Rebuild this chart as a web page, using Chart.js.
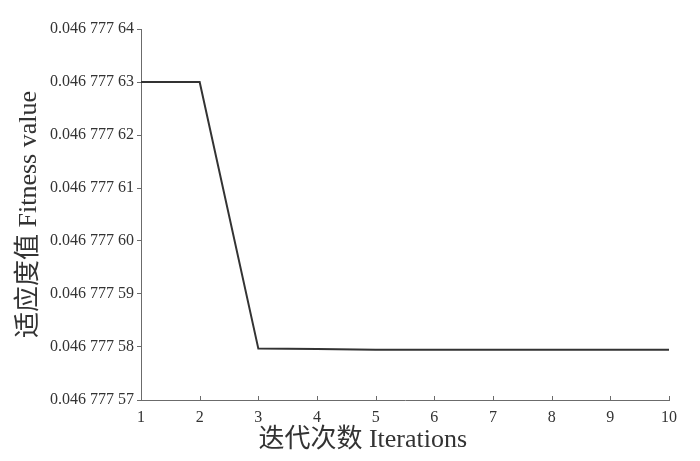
<!DOCTYPE html>
<html>
<head>
<meta charset="utf-8">
<script src="https://cdn.jsdelivr.net/npm/chart.js@4"></script>
<style>
  html, body { margin: 0; padding: 0; background: #fff; }
  #wrap { width: 700px; height: 461px; }
</style>
</head>
<body>
<div id="wrap"><canvas id="c" width="700" height="461"></canvas></div>
<script>
const ITERATIONS = [1, 2, 3, 4, 5, 6, 7, 8, 9, 10];
const FITNESS = [
  0.0467776300, 0.0467776300, 0.0467775797, 0.0467775796, 0.0467775795,
  0.0467775795, 0.0467775795, 0.0467775795, 0.0467775795, 0.0467775795
];
const Y_TICKS = [0.04677757, 0.04677758, 0.04677759, 0.04677760, 0.04677761, 0.04677762, 0.04677763, 0.04677764];
const X_TICKS = [1, 2, 3, 4, 5, 6, 7, 8, 9, 10];
const X_TITLE = "迭代次数 Iterations";
const Y_TITLE = "适应度值 Fitness value";

const SERIF = '"Liberation Serif", "DejaVu Serif", "Noto Sans CJK SC", serif';
const AXIS_COLOR = "#6b6b6b";

// "0.046 777 63" style labels
function fmtFitness(v) {
  const n = Math.round(v * 1e8).toString().padStart(8, "0");
  return "0." + n.slice(0, 3) + " " + n.slice(3, 6) + " " + n.slice(6);
}

// x ticks point into the plot, x title sits left of centre
const axisExtras = {
  id: "axisExtras",
  afterDraw(chart) {
    const { ctx, chartArea, scales } = chart;
    ctx.save();
    ctx.strokeStyle = AXIS_COLOR;
    ctx.lineWidth = 1;
    X_TICKS.forEach((t) => {
      const x = Math.round(scales.x.getPixelForValue(t)) + 0.5;
      ctx.beginPath();
      ctx.moveTo(x, chartArea.bottom);
      ctx.lineTo(x, chartArea.bottom - 4);
      ctx.stroke();
    });
    ctx.fillStyle = "#333";
    ctx.font = "26px " + SERIF;
    ctx.textAlign = "center";
    ctx.textBaseline = "middle";
    ctx.fillText(X_TITLE, chartArea.left + (chartArea.right - chartArea.left) * 0.42, 440);
    ctx.restore();
  }
};

new Chart(document.getElementById("c").getContext("2d"), {
  type: "line",
  data: {
    datasets: [{
      data: ITERATIONS.map((x, i) => ({ x, y: FITNESS[i] })),
      borderColor: "#333333",
      borderWidth: 2,
      pointRadius: 0,
      tension: 0,
      fill: false
    }]
  },
  options: {
    responsive: false,
    animation: false,
    layout: { padding: { top: 29, right: 31, bottom: 0, left: 14 } },
    plugins: { legend: { display: false }, tooltip: { enabled: false } },
    scales: {
      x: {
        type: "linear",
        min: 1,
        max: 10,
        afterBuildTicks: (s) => { s.ticks = X_TICKS.map((v) => ({ value: v })); },
        afterFit: (s) => { s.height = 61; },
        grid: { display: false },
        border: { display: true, color: AXIS_COLOR, width: 1 },
        ticks: { color: "#333", padding: 0, font: { family: SERIF, size: 16 }, maxRotation: 0 }
      },
      y: {
        min: 0.04677757,
        max: 0.04677764,
        afterBuildTicks: (s) => { s.ticks = Y_TICKS.map((v) => ({ value: v })); },
        afterFit: (s) => { s.width = 127; },
        grid: { drawOnChartArea: false, tickLength: 4, color: AXIS_COLOR },
        border: { display: true, color: AXIS_COLOR, width: 1 },
        ticks: {
          color: "#333",
          padding: 3,
          font: { family: SERIF, size: 16 },
          callback: (v) => fmtFitness(v)
        },
        title: {
          display: true,
          text: Y_TITLE,
          color: "#333",
          font: { family: SERIF, size: 26 },
          padding: { top: 0, bottom: 6 }
        }
      }
    }
  },
  plugins: [axisExtras]
});
</script>
</body>
</html>
